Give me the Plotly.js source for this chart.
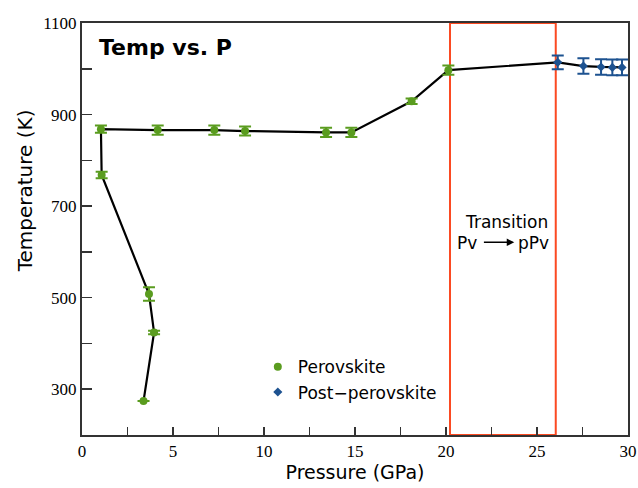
<!DOCTYPE html>
<html>
<head>
<meta charset="utf-8">
<script src="https://cdn.plot.ly/plotly-3.0.1.min.js"></script>
<style>html,body{margin:0;padding:0;background:#fff;}#chart{width:638px;height:488px;}</style>
</head>
<body>
<div id="chart"></div>
<script>
// Perovskite data (pressure GPa, temperature K, error K)
const pvP   = [3.38, 3.96, 3.68, 1.08, 1.04, 4.16, 7.27, 8.96, 13.41, 14.8, 18.11, 20.13];
const pvT   = [274, 424, 508, 768, 868, 866, 866, 864, 861, 861, 929, 997];
const pvErr = [0, 4, 15, 7, 8, 10, 10, 10, 10, 10, 6, 10];
// Post-perovskite data
const ppvP   = [26.14, 27.55, 28.52, 29.14, 29.67];
const ppvT   = [1014, 1006, 1004, 1003, 1003];
const ppvErr = [15, 17, 17, 17, 17];
// Transition region (GPa)
const transition = [20.22, 26.03];
// Tick positions and labels (unlabelled positions are minor ticks)
const xTicks = [0, 2.5, 5, 7.5, 10, 12.5, 15, 17.5, 20, 22.5, 25, 27.5, 30];
const xTickText = ['0', '', '5', '', '10', '', '15', '', '20', '', '25', '', '30'];
const yTicks = [200, 300, 400, 500, 600, 700, 800, 900, 1000, 1100];
const yTickText = ['', '300', '', '500', '', '700', '', '900', '', '1100'];

const green = '#5a9c1f';
const blue = '#1d5290';
const red = '#fb4a22';
const sans = 'DejaVu Sans';
const serif = 'Liberation Serif';

const traces = [
  {
    x: pvP.concat(ppvP), y: pvT.concat(ppvT),
    mode: 'lines', line: {color: '#000', width: 2.2},
    showlegend: false, hoverinfo: 'skip'
  },
  {
    x: pvP, y: pvT, name: 'Perovskite', mode: 'markers',
    marker: {color: green, size: 8, symbol: 'circle'},
    error_y: {type: 'data', array: pvErr, visible: true, color: green, thickness: 2, width: 6}
  },
  {
    x: ppvP, y: ppvT, name: 'Post\u2212perovskite', mode: 'markers',
    marker: {color: blue, size: 7, symbol: 'diamond'},
    error_y: {type: 'data', array: ppvErr, visible: true, color: blue, thickness: 2, width: 6}
  }
];

const layout = {
  width: 638, height: 488,
  margin: {l: 82, r: 10, t: 23, b: 53},
  paper_bgcolor: '#fff', plot_bgcolor: '#fff',
  showlegend: true,
  legend: {
    x: 0.322, y: 0.208, xanchor: 'left', yanchor: 'top',
    bgcolor: 'rgba(0,0,0,0)', font: {family: sans, size: 17, color: '#000'}
  },
  xaxis: {
    range: [0, 30], tickmode: 'array', tickvals: xTicks, ticktext: xTickText,
    tickfont: {family: serif, size: 17, color: '#000'},
    showgrid: false, zeroline: false,
    showline: true, linecolor: '#333', linewidth: 2, mirror: true,
    ticks: 'inside', tickcolor: '#333', tickwidth: 1.5, ticklen: 8,
    title: {text: 'Pressure (GPa)', font: {family: sans, size: 19, color: '#000'}, standoff: 4}
  },
  yaxis: {
    range: [200, 1100], tickmode: 'array', tickvals: yTicks, ticktext: yTickText,
    tickfont: {family: serif, size: 17, color: '#000'},
    showgrid: false, zeroline: false,
    showline: true, linecolor: '#333', linewidth: 2, mirror: true,
    ticks: 'inside', tickcolor: '#333', tickwidth: 1.5, ticklen: 10
  },
  shapes: [
    {type: 'rect', xref: 'x', yref: 'paper', x0: transition[0], x1: transition[1], y0: 0, y1: 1,
     line: {color: red, width: 2}, fillcolor: 'rgba(0,0,0,0)', layer: 'below'}
  ],
  annotations: [
    {text: 'Temperature (K)', xref: 'paper', yref: 'paper', x: -0.104, y: 0.592, textangle: -90,
     xanchor: 'center', yanchor: 'middle', showarrow: false,
     font: {family: sans, size: 20, color: '#000'}},
    {text: '<b>Temp vs. P</b>', xref: 'paper', yref: 'paper', x: 0.027, y: 0.94,
     xanchor: 'left', yanchor: 'middle', showarrow: false,
     font: {family: sans, size: 22, color: '#000'}},
    {text: 'Transition', xref: 'x', yref: 'y', x: 23.3, y: 665, showarrow: false,
     font: {family: sans, size: 17, color: '#000'}},
    {text: 'Pv', xref: 'x', yref: 'y', x: 21.15, y: 619, showarrow: false,
     font: {family: sans, size: 17, color: '#000'}},
    {text: 'pPv', xref: 'x', yref: 'y', x: 24.8, y: 619, showarrow: false,
     font: {family: sans, size: 17, color: '#000'}},
    {text: '', xref: 'x', yref: 'y', x: 23.75, y: 621, axref: 'x', ayref: 'y', ax: 22.0, ay: 621,
     showarrow: true, arrowhead: 2, arrowsize: 1, arrowwidth: 1.5, arrowcolor: '#000', standoff: 0, startstandoff: 0}
  ]
};

Plotly.newPlot('chart', traces, layout, {displayModeBar: false, staticPlot: true});
</script>
</body>
</html>
